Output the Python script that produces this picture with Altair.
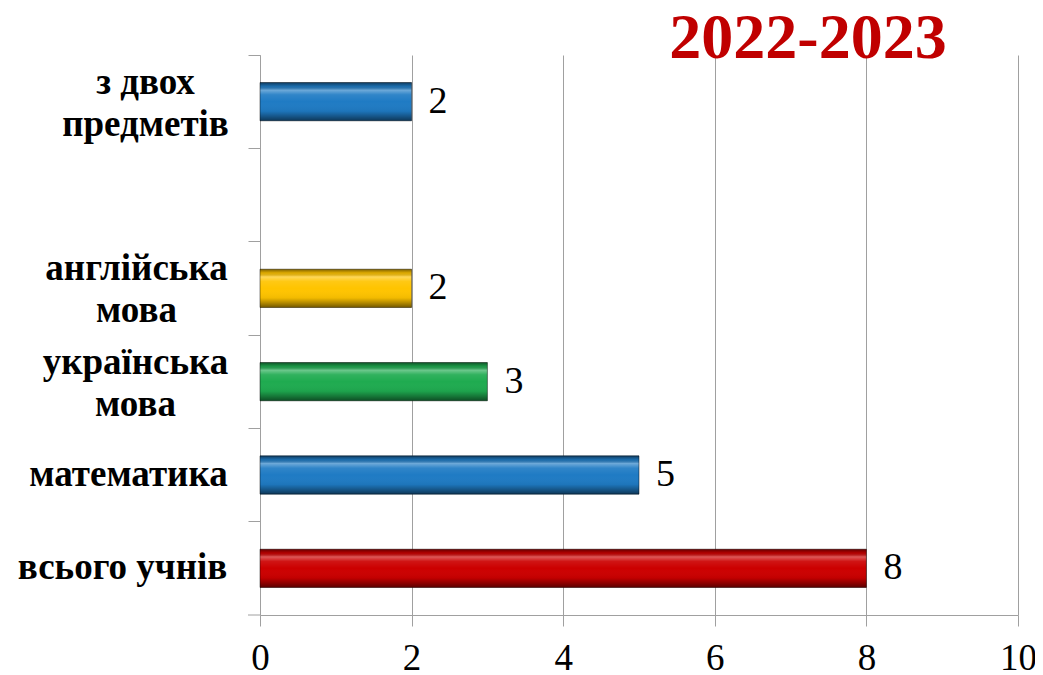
import altair as alt
import pandas as pd

# ---- data ----
categories = ["з двох|предметів", " ", "англійська|мова", "українська|мова", "математика", "всього учнів"]
bar_categories = ["з двох|предметів", "англійська|мова", "українська|мова", "математика", "всього учнів"]
bar_values = [2, 2, 3, 5, 8]
bar_colors = ["#1f7bc4", "#ffc400", "#1fab50", "#1f7bc4", "#cc0000"]
x_ticks = [0, 2, 4, 6, 8, 10]
title_text = "2022-2023"

# label padding per category (centres multi-line labels like the reference)
label_pad = {
    "всього учнів": 126,
    "математика": 120,
    "українська|мова": 113,
    "англійська|мова": 112,
    "з двох|предметів": 103,
}

df = pd.DataFrame({"category": bar_categories, "value": bar_values})

grid_col = "#a0a0a0"
serif = "Liberation Serif"
p_inner = 0.59
view_h = 560

y_scale = alt.Scale(domain=categories, paddingInner=p_inner, paddingOuter=p_inner / 2)
x_scale = alt.Scale(domain=[0, 10], nice=False)

pad_cond = {
    "condition": [{"test": f"datum.value == '{k}'", "value": v} for k, v in label_pad.items()],
    "value": 113,
}
baseline_cond = {
    "condition": [{"test": "indexof(datum.value, '|') >= 0", "value": "bottom"}],
    "value": "middle",
}

y_axis = alt.Axis(
    title=None,
    labelExpr="split(datum.label, '|')",
    labelFont=serif,
    labelFontWeight="bold",
    labelFontSize=37,
    labelColor="black",
    labelAlign="center",
    labelBaseline=baseline_cond,
    labelLineHeight=42,
    labelLimit=400,
    labelPadding=pad_cond,
    bandPosition=-(p_inner / 2) / (1 - p_inner),
    tickSize=12,
    tickColor=grid_col,
    domainColor=grid_col,
    grid=False,
)

x_axis = alt.Axis(
    title=None,
    values=x_ticks,
    format="d",
    grid=True,
    gridColor=grid_col,
    gridOpacity=1,
    tickSize=11,
    tickColor=grid_col,
    domainColor=grid_col,
    labelFont=serif,
    labelFontSize=37,
    labelColor="black",
    labelPadding=14,
    labelFlush=False,
)

base = alt.Chart(df)

bars = base.mark_bar().encode(
    x=alt.X("value:Q", scale=x_scale, axis=x_axis),
    y=alt.Y("category:N", scale=y_scale, axis=y_axis, sort=categories),
    color=alt.Color("category:N", scale=alt.Scale(domain=bar_categories, range=bar_colors), legend=None),
)

bevel = alt.Gradient(
    gradient="linear", x1=0, y1=0, x2=0, y2=1,
    stops=[
        alt.GradientStop(offset=0, color="rgba(0,0,0,0.5)"),
        alt.GradientStop(offset=0.1, color="rgba(0,0,0,0.12)"),
        alt.GradientStop(offset=0.2, color="rgba(255,255,255,0.35)"),
        alt.GradientStop(offset=0.32, color="rgba(255,255,255,0.08)"),
        alt.GradientStop(offset=0.5, color="rgba(255,255,255,0)"),
        alt.GradientStop(offset=0.75, color="rgba(0,0,0,0.05)"),
        alt.GradientStop(offset=0.88, color="rgba(0,0,0,0.3)"),
        alt.GradientStop(offset=1, color="rgba(0,0,0,0.55)"),
    ],
)

overlay = base.mark_bar(fill=bevel, stroke="rgba(0,0,0,0.45)", strokeWidth=1).encode(
    x=alt.X("value:Q", scale=x_scale),
    y=alt.Y("category:N", scale=y_scale, sort=categories),
)

labels = base.mark_text(
    align="left", baseline="middle", dx=17, font=serif, fontSize=38, color="black"
).encode(
    x=alt.X("value:Q", scale=x_scale),
    y=alt.Y("category:N", scale=y_scale, sort=categories),
    text=alt.Text("value:Q"),
)

# closing tick of the category axis at the bottom edge
end_tick = alt.Chart(pd.DataFrame({"t": [0]})).mark_rule(color=grid_col).encode(
    x=alt.value(-12), x2=alt.value(0), y=alt.value(view_h)
)

title = alt.Chart(pd.DataFrame({"t": [title_text]})).mark_text(
    align="center", baseline="alphabetic", font=serif, fontSize=64, fontWeight="bold", color="#c00000"
).encode(text="t:N", x=alt.value(548), y=alt.value(3))

chart = alt.layer(bars, overlay, labels, end_tick, title).properties(
    width=758,
    height=view_h,
    padding={"left": 252, "top": 47, "right": 17, "bottom": 64},
    autosize=alt.AutoSizeParams(type="none"),
).configure_view(stroke=None)

chart.save("out.html", embed_options={"renderer": "svg", "actions": False})
